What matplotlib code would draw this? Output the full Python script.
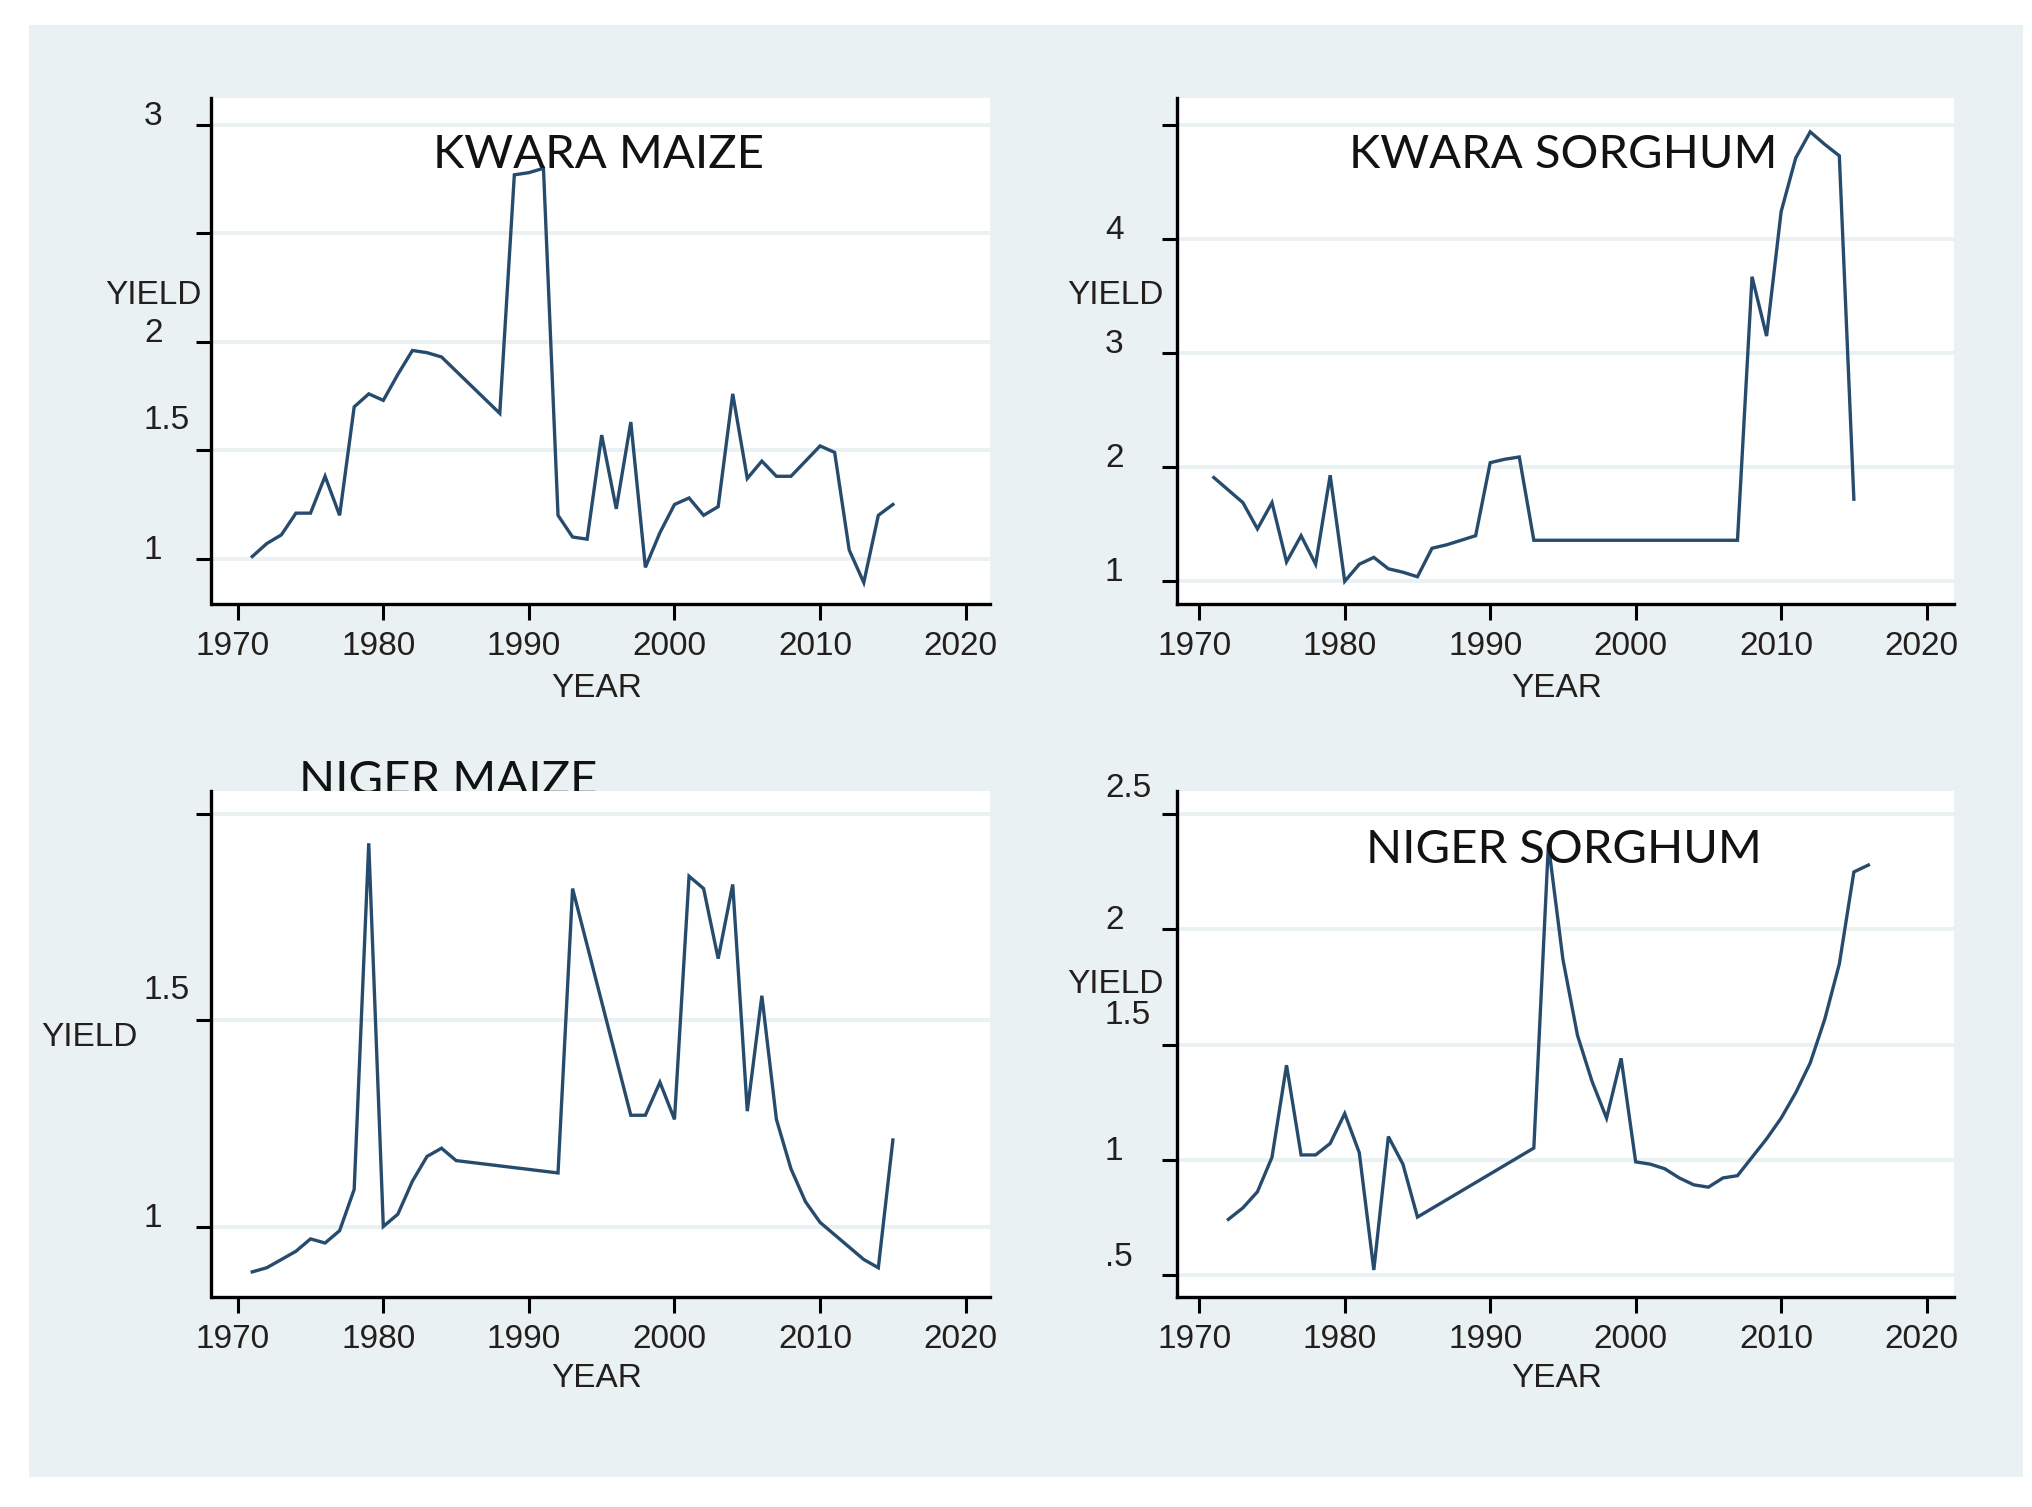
import matplotlib
matplotlib.use('Agg')
import matplotlib.pyplot as plt
import matplotlib.transforms as mtransforms
from matplotlib.patches import Rectangle

W, H, DPI = 2033, 1507, 100

# ---------------- data ----------------
kwara_maize_years = [1971, 1972, 1973, 1974, 1975, 1976, 1977, 1978, 1979, 1980,
                     1981, 1982, 1983, 1984, 1988, 1989, 1990, 1991, 1992, 1993,
                     1994, 1995, 1996, 1997, 1998, 1999, 2000, 2001, 2002, 2003,
                     2004, 2005, 2006, 2007, 2008, 2009, 2010, 2011, 2012, 2013,
                     2014, 2015]
kwara_maize_yield = [1.01, 1.07, 1.11, 1.21, 1.21, 1.38, 1.20, 1.70, 1.76, 1.73,
                     1.85, 1.96, 1.95, 1.93, 1.67, 2.77, 2.78, 2.80, 1.20, 1.10,
                     1.09, 1.57, 1.23, 1.63, 0.96, 1.12, 1.25, 1.28, 1.20, 1.24,
                     1.76, 1.37, 1.45, 1.38, 1.38, 1.45, 1.52, 1.49, 1.04, 0.89,
                     1.20, 1.25]

kwara_sorghum_years = [1971, 1972, 1973, 1974, 1975, 1976, 1977, 1978, 1979, 1980,
                       1981, 1982, 1983, 1984, 1985, 1986, 1987, 1988, 1989, 1990,
                       1991, 1992, 1993, 2007, 2008, 2009, 2010, 2011, 2012, 2013,
                       2014, 2015]
kwara_sorghum_yield = [1.91, 1.80, 1.69, 1.46, 1.69, 1.17, 1.40, 1.15, 1.93, 1.00,
                       1.15, 1.21, 1.11, 1.08, 1.04, 1.29, 1.32, 1.36, 1.40, 2.04,
                       2.07, 2.09, 1.36, 1.36, 3.67, 3.15, 4.24, 4.71, 4.94, 4.83,
                       4.73, 1.72]

niger_maize_years = [1971, 1972, 1973, 1974, 1975, 1976, 1977, 1978, 1979, 1980,
                     1981, 1982, 1983, 1984, 1985, 1992, 1993, 1997, 1998, 1999,
                     2000, 2001, 2002, 2003, 2004, 2005, 2006, 2007, 2008, 2009,
                     2010, 2011, 2012, 2013, 2014, 2015]
niger_maize_yield = [0.89, 0.90, 0.92, 0.94, 0.97, 0.96, 0.99, 1.09, 1.93, 1.00,
                     1.03, 1.11, 1.17, 1.19, 1.16, 1.13, 1.82, 1.27, 1.27, 1.35,
                     1.26, 1.85, 1.82, 1.65, 1.83, 1.28, 1.56, 1.26, 1.14, 1.06,
                     1.01, 0.98, 0.95, 0.92, 0.90, 1.21]

niger_sorghum_years = [1972, 1973, 1974, 1975, 1976, 1977, 1978, 1979, 1980, 1981,
                       1982, 1983, 1984, 1985, 1993, 1994, 1995, 1996, 1997, 1998,
                       1999, 2000, 2001, 2002, 2003, 2004, 2005, 2006, 2007, 2008,
                       2009, 2010, 2011, 2012, 2013, 2014, 2015, 2016]
niger_sorghum_yield = [0.74, 0.79, 0.86, 1.01, 1.41, 1.02, 1.02, 1.07, 1.20, 1.03,
                       0.52, 1.10, 0.98, 0.75, 1.05, 2.37, 1.87, 1.54, 1.34, 1.18,
                       1.44, 0.99, 0.98, 0.96, 0.92, 0.89, 0.88, 0.92, 0.93, 1.01,
                       1.09, 1.18, 1.29, 1.42, 1.61, 1.85, 2.25, 2.28]

panel_titles = ['KWARA MAIZE', 'KWARA SORGHUM', 'NIGER MAIZE', 'NIGER SORGHUM']
x_tick_values = [1970, 1980, 1990, 2000, 2010, 2020]
x_tick_labels = ['1970', '1980', '1990', '2000', '2010', '2020']
y_axis_title = 'YIELD'
x_axis_title = 'YEAR'

kwara_maize_grid = [1, 1.5, 2, 2.5, 3]
kwara_maize_ylabels = ['1', '1.5', '2', '', '3']
kwara_sorghum_grid = [1, 2, 3, 4, 5]
kwara_sorghum_ylabels = ['1', '2', '3', '4', '']
niger_maize_grid = [1, 1.5, 2]
niger_maize_ylabels = ['1', '1.5', '']
niger_sorghum_grid = [0.5, 1, 1.5, 2, 2.5]
niger_sorghum_ylabels = ['.5', '1', '1.5', '2', '2.5']

# ---------------- style ----------------
BG = '#e9f1f2'
LINE = '#274b6d'
TXT = '#231f1c'
TITLE_C = '#121212'
TICK_FONT = ['Liberation Sans', 'DejaVu Sans']
TITLE_FONT = ['Lato', 'DejaVu Sans']
TICK_SIZE = 24
TITLE_SIZE = 34

# layout in pixels: (left, top, right, bottom)
layout = [
    dict(box=(211.5, 97.6, 990.0, 603.7), xlim=(1968.2, 2021.67), ylim=(0.7925, 3.126),
         title=(599, 168), title_under=False, ylab_x=144, ytitle=(153.3, 304), xtitle=(596.3, 697),
         raise_px={'1.5': 21}),
    dict(box=(1177.0, 97.6, 1953.8, 603.7), xlim=(1968.47, 2021.87), ylim=(0.804, 5.24),
         title=(1563.6, 168), title_under=False, ylab_x=1105, ytitle=(1115, 304), xtitle=(1556.5, 697),
         raise_px={}),
    dict(box=(211.5, 790.5, 990.0, 1297.0), xlim=(1968.2, 2021.67), ylim=(0.829, 2.058),
         title=(448.6, 794), title_under=True, ylab_x=144, ytitle=(89.8, 1046), xtitle=(596.3, 1386.7),
         raise_px={'1.5': 21}),
    dict(box=(1177.0, 790.5, 1953.8, 1297.0), xlim=(1968.47, 2021.87), ylim=(0.4026, 2.604),
         title=(1564, 862.6), title_under=False, ylab_x=1105, ytitle=(1115, 993), xtitle=(1556.5, 1386.7),
         raise_px={'2.5': 17, '1.5': 21, '.5': 9}),
]

series = [
    (kwara_maize_years, kwara_maize_yield, kwara_maize_grid, kwara_maize_ylabels),
    (kwara_sorghum_years, kwara_sorghum_yield, kwara_sorghum_grid, kwara_sorghum_ylabels),
    (niger_maize_years, niger_maize_yield, niger_maize_grid, niger_maize_ylabels),
    (niger_sorghum_years, niger_sorghum_yield, niger_sorghum_grid, niger_sorghum_ylabels),
]

fig = plt.figure(figsize=(W / DPI, H / DPI), dpi=DPI)
fig.patch.set_facecolor('white')


def fx(x):
    return x / W


def fy(y):
    return 1 - y / H


# graph region background
fig.patches.append(Rectangle((fx(29), fy(1476.7)), fx(2023.3) - fx(29), fy(25) - fy(1476.7),
                             transform=fig.transFigure, facecolor=BG, edgecolor='none', zorder=-2))

for (years, vals, grid, ylabels), lay, title in zip(series, layout, panel_titles):
    l, t, r, b = lay['box']
    ax = fig.add_axes([fx(l), fy(b), (r - l) / W, (b - t) / H])
    ax.set_facecolor('white')
    ax.set_xlim(*lay['xlim'])
    ax.set_ylim(*lay['ylim'])
    for s in ['top', 'right']:
        ax.spines[s].set_visible(False)
    for s in ['left', 'bottom']:
        ax.spines[s].set_linewidth(2.4)
        ax.spines[s].set_color('black')
    ax.set_yticks(grid)
    ax.set_yticklabels([''] * len(grid))
    ax.set_xticks(x_tick_values)
    ax.set_xticklabels(x_tick_labels, fontsize=TICK_SIZE, family=TICK_FONT, color=TXT)
    ax.tick_params(axis='x', length=11.5, width=2.2, pad=8.0, color='black')
    ax.tick_params(axis='y', length=11, width=2.2, color='black')
    offset = mtransforms.ScaledTranslation(-5 / DPI, 0, fig.dpi_scale_trans)
    for lab in ax.get_xticklabels():
        lab.set_transform(lab.get_transform() + offset)
    ax.grid(axis='y', color=BG, linewidth=2.8, zorder=0)
    ax.set_axisbelow(True)

    ax.plot(years, vals, color=LINE, linewidth=2.4, zorder=3, solid_joinstyle='miter')

    # y tick labels (left aligned, sitting on the grid lines)
    for v, s in zip(grid, ylabels):
        if not s:
            continue
        tr = mtransforms.blended_transform_factory(fig.transFigure, ax.transData) + \
            mtransforms.ScaledTranslation(0, lay['raise_px'].get(s, 0) / DPI, fig.dpi_scale_trans)
        fig.text(fx(lay['ylab_x']), v, s, transform=tr, ha='left', va='baseline',
                 fontsize=TICK_SIZE, family=TICK_FONT, color=TXT)

    # axis titles
    fig.text(fx(lay['ytitle'][0]), fy(lay['ytitle'][1]), y_axis_title, ha='center', va='baseline',
             fontsize=TICK_SIZE, family=TICK_FONT, color=TXT)
    fig.text(fx(lay['xtitle'][0]), fy(lay['xtitle'][1]), x_axis_title, ha='center', va='baseline',
             fontsize=TICK_SIZE, family=TICK_FONT, color=TXT)

    # panel title
    fig.text(fx(lay['title'][0]), fy(lay['title'][1]), title, ha='center', va='baseline',
             fontsize=TITLE_SIZE, family=TITLE_FONT, color=TITLE_C,
             zorder=-1 if lay['title_under'] else 2)

fig.savefig('out.png', dpi=DPI, facecolor='white')
